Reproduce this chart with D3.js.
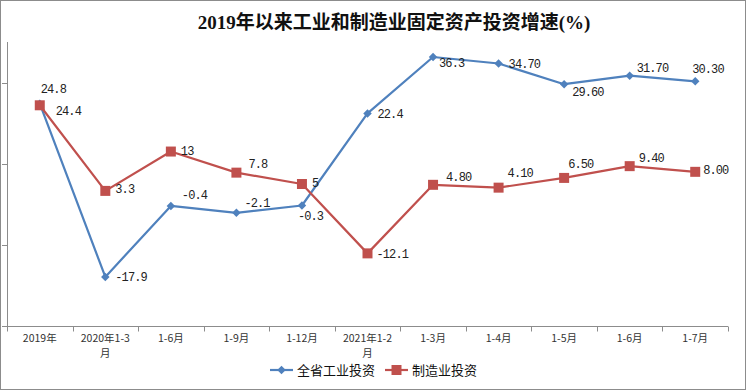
<!DOCTYPE html>
<html>
<head>
<meta charset="utf-8">
<script src="https://cdn.jsdelivr.net/npm/d3@7"></script>
<style>
  body { margin: 0; background: #fff; }
  svg { display: block; }
</style>
</head>
<body>
<svg id="chart" width="746" height="390"></svg>
<script>
// chart data
const categories = ["2019年", "2020年1-3月", "1-6月", "1-9月", "1-12月", "2021年1-2月", "1-3月", "1-4月", "1-5月", "1-6月", "1-7月"];
const industry = [24.8, -17.9, -0.4, -2.1, -0.3, 22.4, 36.3, 34.7, 29.6, 31.7, 30.3];
const manufacturing = [24.4, 3.3, 13, 7.8, 5, -12.1, 4.8, 4.1, 6.5, 9.4, 8.0];
const industryLabels = ["24.8", "-17.9", "-0.4", "-2.1", "-0.3", "22.4", "36.3", "34.70", "29.60", "31.70", "30.30"];
const manufacturingLabels = ["24.4", "3.3", "13", "7.8", "5", "-12.1", "4.80", "4.10", "6.50", "9.40", "8.00"];
const yTicks = [-30, -10, 10, 30];
const seriesNames = ["全省工业投资", "制造业投资"];

// label offsets (styling only)
const industryOffsets = [[1, -15], [10, 0], [11, -11], [8, -10], [-4, 10], [10, 0], [6, 6], [10, 0], [8, 8], [7, -8], [-3, -13]];
const manufacturingOffsets = [[16, 6], [10, -2], [10, -1], [12, -9], [10, -1], [9, 0], [13, -8], [9, -15], [4, -14], [9, -8], [8, -2]];

const blue = "#4F81BD", red = "#C0504D";
const svg = d3.select("#chart");

// outer border
svg.append("rect")
    .attr("x", 0.5).attr("y", 0.5)
    .attr("width", 745).attr("height", 389)
    .attr("fill", "#fff")
    .attr("stroke", "#8c8c8c");

// title
svg.append("text")
    .attr("x", 394).attr("y", 29)
    .attr("text-anchor", "middle")
    .style("font-family", "'Liberation Serif', 'Noto Sans CJK SC', serif")
    .style("font-weight", "bold")
    .style("font-size", "19px")
    .attr("fill", "#111")
    .text("2019年以来工业和制造业固定资产投资增速(%)");

const x = d3.scaleBand()
    .domain(d3.range(categories.length))
    .range([7, 728]);

const y = d3.scaleLinear()
    .domain([-30, 40])
    .range([326, 42]);

const cx = i => x(i) + x.bandwidth() / 2;

// y axis: line + ticks, no labels
svg.append("line")
    .attr("x1", 7.5).attr("x2", 7.5)
    .attr("y1", y(40)).attr("y2", y(-30))
    .attr("stroke", "#8c8c8c");
svg.selectAll(".ytick")
    .data(yTicks)
    .enter().append("line")
    .attr("class", "ytick")
    .attr("x1", 2).attr("x2", 7.5)
    .attr("y1", d => Math.round(y(d)) + 0.5)
    .attr("y2", d => Math.round(y(d)) + 0.5)
    .attr("stroke", "#8c8c8c");

// x axis
const xAxis = svg.append("g")
    .attr("transform", "translate(0," + (Math.round(y(-30)) + 0.5) + ")");
xAxis.append("line")
    .attr("x1", 7).attr("x2", 728)
    .attr("stroke", "#8c8c8c");
xAxis.selectAll(".xtick")
    .data(d3.range(categories.length + 1))
    .enter().append("line")
    .attr("class", "xtick")
    .attr("x1", d => Math.round(d < categories.length ? x(d) : 728) + 0.5)
    .attr("x2", d => Math.round(d < categories.length ? x(d) : 728) + 0.5)
    .attr("y1", 0).attr("y2", 5)
    .attr("stroke", "#8c8c8c");

// category labels, wrap the long ones
xAxis.selectAll(".xlabel")
    .data(categories)
    .enter().append("text")
    .attr("class", "xlabel")
    .attr("text-anchor", "middle")
    .style("font-family", "'Noto Sans CJK SC', sans-serif")
    .style("font-size", "10.5px")
    .attr("fill", "#333")
    .each(function (d, i) {
        const t = d3.select(this);
        const lines = d.length > 6 ? [d.slice(0, -1), d.slice(-1)] : [d];
        lines.forEach((s, k) => {
            t.append("tspan")
                .attr("x", cx(i))
                .attr("y", 15 + k * 15)
                .text(s);
        });
    });

// series (diamond = square turned 45deg)
const series = [
    {values: industry, labels: industryLabels, offsets: industryOffsets, color: blue, size: 36, rot: 45},
    {values: manufacturing, labels: manufacturingLabels, offsets: manufacturingOffsets, color: red, size: 100, rot: 0}
];

const line = d3.line()
    .x((d, i) => cx(i))
    .y(d => y(d));

series.forEach(s => {
    svg.append("path")
        .datum(s.values)
        .attr("d", line)
        .attr("fill", "none")
        .attr("stroke", s.color)
        .attr("stroke-width", 2.2)
        .attr("stroke-linejoin", "round");
});

series.forEach(s => {
    svg.selectAll(null)
        .data(s.values)
        .enter().append("path")
        .attr("d", d3.symbol().type(d3.symbolSquare).size(s.size))
        .attr("transform", (d, i) => "translate(" + cx(i) + "," + y(d) + ") rotate(" + s.rot + ")")
        .attr("fill", s.color);
});

series.forEach(s => {
    svg.selectAll(null)
        .data(s.values)
        .enter().append("text")
        .attr("x", (d, i) => cx(i) + s.offsets[i][0])
        .attr("y", (d, i) => y(d) + s.offsets[i][1])
        .attr("dy", "0.35em")
        .style("font-family", "'Liberation Mono', monospace")
        .style("font-size", "12px")
        .style("letter-spacing", "-0.9px")
        .attr("fill", "#222")
        .text((d, i) => s.labels[i]);
});

// legend
const legend = svg.append("g").attr("transform", "translate(270,370)");
series.forEach((s, i) => {
    const g = legend.append("g").attr("transform", "translate(" + [0, 115][i] + ",0)");
    g.append("line")
        .attr("x1", 0).attr("x2", 23)
        .attr("stroke", s.color).attr("stroke-width", 2.2);
    g.append("path")
        .attr("d", d3.symbol().type(d3.symbolSquare).size(s.size))
        .attr("transform", "translate(11.5,0) rotate(" + s.rot + ")")
        .attr("fill", s.color);
    g.append("text")
        .attr("x", 27).attr("dy", "0.35em")
        .style("font-family", "'Noto Sans CJK SC', sans-serif")
        .style("font-size", "13px")
        .attr("fill", "#111")
        .text(seriesNames[i]);
});
</script>
</body>
</html>
